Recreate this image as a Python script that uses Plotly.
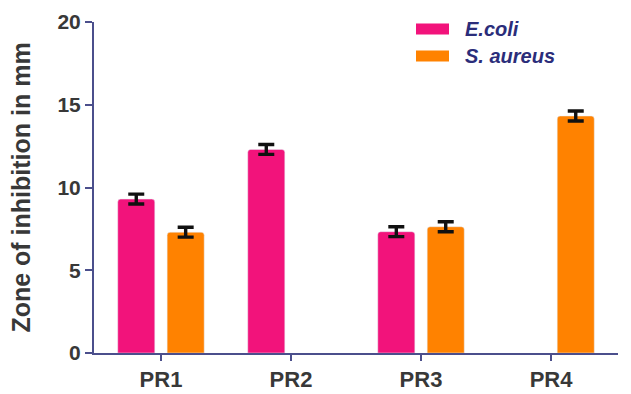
import plotly.graph_objects as go

# Zone of inhibition (mm) for each compound against two bacterial strains
compounds = ["PR1", "PR2", "PR3", "PR4"]
ecoli = [9.3, 12.3, 7.33, None]
saureus = [7.3, None, 7.63, 14.32]
ecoli_err = [0.3, 0.3, 0.3, 0]
saureus_err = [0.3, 0, 0.3, 0.3]

series_names = ["E.coli", "S. aureus"]
pink = "#f2137b"
orange = "#ff8200"
axis_col = "#4b4f8c"
text_col = "#383838"
legend_text_col = "#2b2d7a"
font_family = "Liberation Sans, Arial, sans-serif"

err_style = dict(type="data", thickness=3.4, width=8, color="#111111")

fig = go.Figure()
fig.add_trace(go.Bar(
    x=compounds, y=ecoli, name=series_names[0], marker_color=pink,
    error_y=dict(array=ecoli_err, **err_style),
))
fig.add_trace(go.Bar(
    x=compounds, y=saureus, name=series_names[1], marker_color=orange,
    error_y=dict(array=saureus_err, **err_style),
))

fig.update_layout(
    width=631, height=394,
    margin=dict(l=94, r=13, t=22, b=41),
    plot_bgcolor="white", paper_bgcolor="white",
    barmode="group", bargap=0.24, bargroupgap=0.25,
    barcornerradius=3,
    showlegend=False,
    font=dict(family=font_family, color=text_col),
)

fig.update_xaxes(
    range=[-0.515, 3.515], automargin=False,
    showline=True, linecolor=axis_col, linewidth=2,
    ticks="outside", tickcolor=axis_col, ticklen=6, tickwidth=2,
    tickfont=dict(size=22, color=text_col, family=font_family, weight="bold"),
    showgrid=False, zeroline=False,
)
fig.update_yaxes(
    range=[0, 20], tickvals=[0, 5, 10, 15, 20], automargin=False,
    showline=True, linecolor=axis_col, linewidth=2,
    ticks="outside", tickcolor=axis_col, ticklen=7, tickwidth=2,
    tickfont=dict(size=21, color=text_col, family=font_family, weight="bold"),
    showgrid=False, zeroline=False,
    title=dict(text="Zone of inhibition in mm",
               font=dict(size=25, color=text_col, family=font_family, weight="bold"),
               standoff=20),
)

# Legend drawn as swatches with italic labels in the upper right
swatches = [(series_names[0], pink, 29), (series_names[1], orange, 56)]
for label, col, yc in swatches:
    fig.add_shape(type="rect", xref="paper", yref="paper",
                  x0=(416 - 94) / 524, x1=(449 - 94) / 524,
                  y0=(353 - (yc - 5.5)) / 331, y1=(353 - (yc + 5.5)) / 331,
                  fillcolor=col, line=dict(width=0))
    fig.add_annotation(xref="paper", yref="paper",
                       x=(463 - 94) / 524, y=(353 - yc) / 331,
                       text=f"<b><i>{label}</i></b>", showarrow=False,
                       xanchor="left", yanchor="middle",
                       font=dict(size=20, color=legend_text_col, family=font_family))

fig.write_html("out.html")
